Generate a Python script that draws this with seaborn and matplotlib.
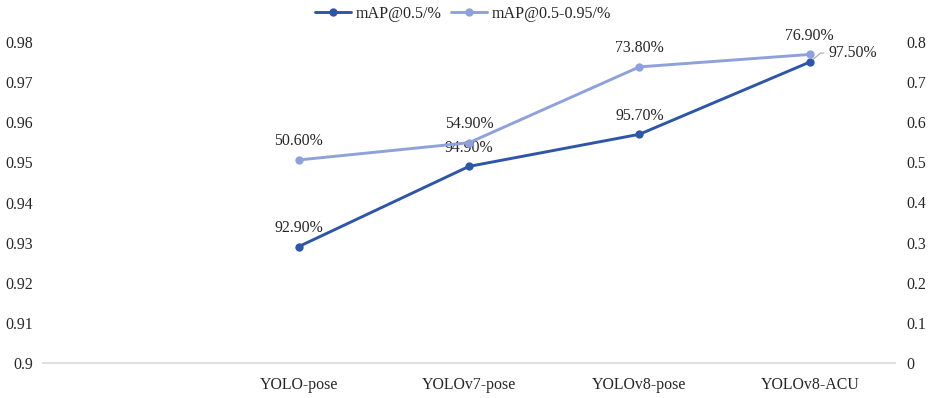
import matplotlib
matplotlib.use("Agg")
import matplotlib.pyplot as plt
import pandas as pd
import seaborn as sns

# chart data
models = ["YOLO-pose", "YOLOv7-pose", "YOLOv8-pose", "YOLOv8-ACU"]
map50 = [0.929, 0.949, 0.957, 0.975]
map50_95 = [0.506, 0.549, 0.738, 0.769]
map50_labels = ["92.90%", "94.90%", "95.70%", "97.50%"]
map50_95_labels = ["50.60%", "54.90%", "73.80%", "76.90%"]
left_ticks = [0.9, 0.91, 0.92, 0.93, 0.94, 0.95, 0.96, 0.97, 0.98]
right_ticks = [0, 0.1, 0.2, 0.3, 0.4, 0.5, 0.6, 0.7, 0.8]

DARK = "#2F56A6"
LIGHT = "#8FA1DB"

sns.set_style("white")
plt.rcParams["font.family"] = ["Liberation Serif", "DejaVu Serif"]
plt.rcParams["font.size"] = 11.4

df = pd.DataFrame({"model": models, "map50": map50, "map50_95": map50_95})

fig = plt.figure(figsize=(9.35, 3.98), dpi=100)
ax = fig.add_axes([43 / 935, 1 - 363 / 398, (895 - 43) / 935, (363 - 42) / 398])
ax2 = ax.twinx()

sns.lineplot(data=df, x="model", y="map50", ax=ax, color=DARK, lw=2.1,
             marker="o", markersize=6, markeredgewidth=0, label="mAP@0.5/%", legend=False)
sns.lineplot(data=df, x="model", y="map50_95", ax=ax2, color=LIGHT, lw=2.1,
             marker="o", markersize=6, markeredgewidth=0, label="mAP@0.5-0.95/%", legend=False)

ax.set_xlim(-1.5, 3.5)
ax.set_ylim(0.9, 0.98)
ax2.set_ylim(0, 0.8)
ax.set_yticks(left_ticks)
ax.set_yticklabels([f"{t:g}" for t in left_ticks])
ax2.set_yticks(right_ticks)
ax2.set_yticklabels([f"{t:g}" for t in right_ticks])
ax.set_xlabel("")
ax.set_ylabel("")
ax2.set_ylabel("")

for a in (ax, ax2):
    for side in ("top", "left", "right"):
        a.spines[side].set_visible(False)
    a.spines["bottom"].set_color("#D9D9D9")
    a.spines["bottom"].set_linewidth(1.2)
ax2.spines["bottom"].set_visible(False)
ax.tick_params(axis="y", length=0, pad=7, labelsize=11.4)
ax2.tick_params(axis="y", length=0, pad=8, labelsize=11.4)
ax.tick_params(axis="x", length=0, pad=10, labelsize=11.4)

for i, (v, s) in enumerate(zip(map50_95, map50_95_labels)):
    ax2.annotate(s, (i, v), xytext=(0, 13.5), textcoords="offset points",
                 ha="center", va="center")

for i, (v, s) in enumerate(zip(map50, map50_labels)):
    if i == len(map50) - 1:
        ax.annotate(s, (i, v), xytext=(31, 6.5), textcoords="offset points",
                    ha="center", va="center",
                    arrowprops=dict(arrowstyle="-", color="#A6A6A6", lw=0.8,
                                    shrinkA=1, shrinkB=3,
                                    connectionstyle="angle,angleA=0,angleB=40,rad=0"))
    else:
        ax.annotate(s, (i, v), xytext=(0, 13.5), textcoords="offset points",
                    ha="center", va="center")

h1, l1 = ax.get_legend_handles_labels()
h2, l2 = ax2.get_legend_handles_labels()
fig.legend(h1 + h2, l1 + l2, loc="center", bbox_to_anchor=(463 / 935, 1 - 14 / 398),
           ncol=2, frameon=False, handlelength=2.2, handletextpad=0.3,
           columnspacing=0.6, fontsize=11.6)

fig.savefig("out.png", dpi=100)
